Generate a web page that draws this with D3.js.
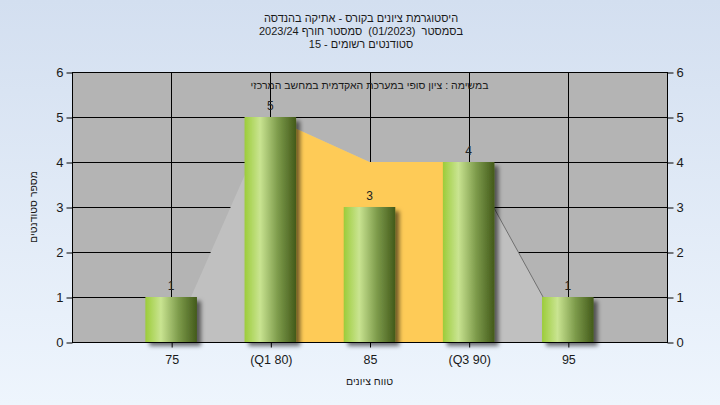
<!DOCTYPE html>
<html><head><meta charset="utf-8">
<script src="https://cdn.jsdelivr.net/npm/d3@7"></script>
<style>html,body{margin:0;padding:0;background:#e4edf8;}svg{display:block;}text{white-space:pre;}</style>
</head><body>
<svg id="chart" width="720" height="405"></svg>
<script>
const categories = ["75", "(Q1 80)", "85", "(Q3 90)", "95"];
const counts = [1, 5, 3, 4, 1];
const rangeArea = [0, 5, 4, 4, 0];
const iqrIdx = [1, 2, 3];
const iqrArea = [5, 4, 4];
const yTicks = [0, 1, 2, 3, 4, 5, 6];
const titleLines = ["היסטוגרמת ציונים בקורס - אתיקה בהנדסה", "בסמסטר  (01/2023)  סמסטר חורף 2023/24", "סטודנטים רשומים - 15"];
const subTitle = "במשימה : ציון סופי במערכת האקדמית במחשב המרכזי";
const xTitle = "טווח ציונים";
const yTitle = "מספר סטודנטים";

const W = 720, H = 405;
const L = 72, R = 667, T = 72, B = 342;
const font = "'Liberation Sans', Arial, 'DejaVu Sans', sans-serif";
const svg = d3.select("#chart");
const defs = svg.append("defs");

const bg = defs.append("linearGradient").attr("id", "bg").attr("x1", 0).attr("y1", 0).attr("x2", 0).attr("y2", 1);
bg.append("stop").attr("offset", "0%").attr("stop-color", "#d3dff0");
bg.append("stop").attr("offset", "100%").attr("stop-color", "#eef5fd");

const bar = defs.append("linearGradient").attr("id", "bar").attr("x1", 0).attr("y1", 0).attr("x2", 1).attr("y2", 0);
[["0%", "#9ccc3a"], ["30%", "#c9e491"], ["65%", "#7c9a4a"], ["100%", "#435a1a"]].forEach(s =>
  bar.append("stop").attr("offset", s[0]).attr("stop-color", s[1]));

const f = defs.append("filter").attr("id", "shadow").attr("x", "-20%").attr("y", "-20%").attr("width", "160%").attr("height", "160%");
f.append("feDropShadow").attr("dx", 4).attr("dy", 4).attr("stdDeviation", 2).attr("flood-color", "#000").attr("flood-opacity", 0.55);

svg.append("rect").attr("width", W).attr("height", H).attr("fill", "url(#bg)");

const x = d3.scaleLinear().domain([0, 6]).range([L, R]);
const y = d3.scaleLinear().domain([0, 6]).range([B, T]);
const xc = i => x(i + 1);

svg.append("rect").attr("x", L).attr("y", T).attr("width", R - L).attr("height", B - T).attr("fill", "#b4b4b4");

const g = svg.append("g").attr("stroke", "#000").attr("stroke-width", 1);
yTicks.forEach(t => g.append("line").attr("x1", L).attr("x2", R).attr("y1", Math.round(y(t)) + 0.5).attr("y2", Math.round(y(t)) + 0.5));
categories.forEach((c, i) => g.append("line").attr("x1", Math.round(xc(i)) + 0.5).attr("x2", Math.round(xc(i)) + 0.5).attr("y1", T).attr("y2", B));

const area = d3.area().x(d => d[0]).y0(y(0)).y1(d => y(d[1]));
svg.append("path").attr("d", area(rangeArea.map((v, i) => [xc(i), v]))).attr("fill", "#c0c0c0");
svg.append("path").attr("d", d3.line()([[xc(3), y(rangeArea[3])], [xc(4), y(rangeArea[4])]]))
  .attr("stroke", "#707070").attr("stroke-width", 1).attr("fill", "none");
svg.append("path").attr("d", area(iqrArea.map((v, k) => [xc(iqrIdx[k]), v]))).attr("fill", "#fecb57");

const ax = svg.append("g").attr("stroke", "#000").attr("stroke-width", 1);
ax.append("line").attr("x1", L + 0.5).attr("x2", L + 0.5).attr("y1", T).attr("y2", B + 1);
ax.append("line").attr("x1", R + 0.5).attr("x2", R + 0.5).attr("y1", T).attr("y2", B + 1);
ax.append("line").attr("x1", L).attr("x2", R + 1).attr("y1", B + 0.5).attr("y2", B + 0.5);
ax.append("line").attr("x1", L).attr("x2", R + 1).attr("y1", T + 0.5).attr("y2", T + 0.5);

const bw = (x(1) - x(0)) * 0.52;
svg.append("g").selectAll("rect").data(counts).join("rect")
  .attr("x", (d, i) => xc(i) - bw / 2).attr("y", d => y(d))
  .attr("width", bw).attr("height", d => y(0) - y(d))
  .attr("fill", "url(#bar)").attr("filter", "url(#shadow)");

svg.append("g").selectAll("text").data(counts).join("text")
  .attr("x", (d, i) => xc(i)).attr("y", d => y(d) - 7)
  .attr("text-anchor", "middle").attr("font-family", font).attr("font-size", 12).attr("fill", "#222")
  .text(d => d);

const yl = d3.axisLeft(y).tickValues(yTicks).tickSize(6).tickPadding(3).tickFormat(d3.format("d"));
const gl = svg.append("g").attr("transform", `translate(${L + 0.5},0.5)`).call(yl);
const yr = d3.axisRight(y).tickValues(yTicks).tickSize(6).tickPadding(3).tickFormat(d3.format("d"));
const gr = svg.append("g").attr("transform", `translate(${R + 0.5},0.5)`).call(yr);
const xa = d3.axisBottom(x).tickValues(categories.map((c, i) => i + 1)).tickSize(5).tickPadding(8).tickFormat((d, i) => categories[i]);
const gx = svg.append("g").attr("transform", `translate(0.5,${B + 0.5})`).call(xa);
[gl, gr, gx].forEach(a => {
  a.select(".domain").remove();
  a.selectAll("line").attr("stroke", "#000");
  a.selectAll("text").attr("font-family", font).attr("font-size", 13).attr("fill", "#1a1a1a");
});
gx.selectAll("text").attr("font-size", 12.5);

titleLines.forEach((t, i) => svg.append("text").attr("x", 361).attr("y", 22 + i * 13)
  .attr("text-anchor", "middle").attr("direction", "rtl").attr("font-family", font).attr("font-size", 11).attr("fill", "#1a1a1a").text(t));
svg.append("text").attr("x", (L + R) / 2).attr("y", 89).attr("text-anchor", "middle").attr("direction", "rtl")
  .attr("font-family", font).attr("font-size", 10.5).attr("fill", "#1a1a1a").text(subTitle);
svg.append("text").attr("x", (L + R) / 2).attr("y", 385).attr("text-anchor", "middle").attr("direction", "rtl")
  .attr("font-family", font).attr("font-size", 10.5).attr("fill", "#1a1a1a").text(xTitle);
svg.append("text").attr("transform", `translate(37,${(T + B) / 2}) rotate(-90)`).attr("text-anchor", "middle").attr("direction", "rtl")
  .attr("font-family", font).attr("font-size", 10.5).attr("fill", "#1a1a1a").text(yTitle);
</script>
</body></html>
